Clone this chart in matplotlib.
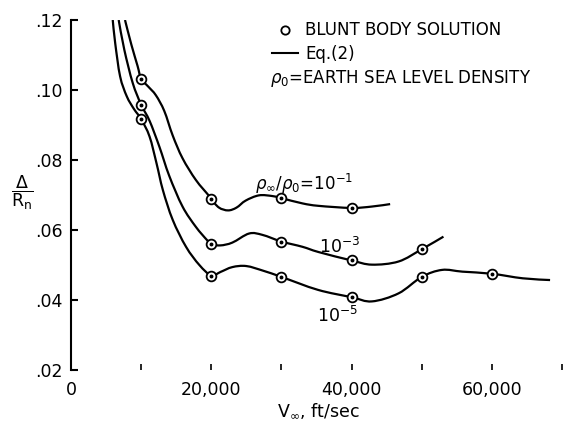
import numpy as np
import matplotlib
matplotlib.use("Agg")
import matplotlib.pyplot as plt
from matplotlib.path import Path
from matplotlib.patches import PathPatch

# curves: V (ft/sec) vs Delta/Rn
v1 = [7700, 8600, 9500, 10000, 11000, 12100, 13300, 14500, 15900, 17800, 19700, 20000,
      21100, 22400, 23600, 24900, 26800, 28700, 30000, 33000, 35300, 40000, 42900, 45500]
d1 = [0.1200, 0.1130, 0.1068, 0.1032, 0.1010, 0.0985, 0.0940, 0.0870, 0.0805, 0.0743, 0.0697, 0.0688,
      0.0664, 0.0656, 0.0664, 0.0684, 0.0699, 0.0697, 0.0691, 0.0676, 0.0669, 0.0663, 0.0667, 0.0674]

v3 = [6800, 7600, 8800, 10000, 11200, 12600, 14000, 15900, 17800, 19400, 20000, 21300,
      23000, 25400, 27300, 30000, 33000, 35300, 40000, 42900, 46700, 50000, 53100]
d3 = [0.1200, 0.1115, 0.1020, 0.0958, 0.0912, 0.0838, 0.0755, 0.0667, 0.0609, 0.0571, 0.0560, 0.0556,
      0.0564, 0.0590, 0.0586, 0.0567, 0.0552, 0.0537, 0.0513, 0.0501, 0.0510, 0.0545, 0.0581]

v5 = [5950, 6300, 7000, 7950, 9000, 10000, 11200, 12200, 13100, 14500, 16400, 18300,
      20000, 21300, 23000, 25000, 27500, 30000, 35200, 40000, 42900, 46700, 50000, 52900,
      55800, 60000, 64400, 68300]
d5 = [0.1200, 0.1134, 0.1039, 0.0982, 0.0945, 0.0917, 0.0867, 0.0790, 0.0714, 0.0629, 0.0552, 0.0500,
      0.0470, 0.0480, 0.0494, 0.0497, 0.0483, 0.0466, 0.0429, 0.0408, 0.0396, 0.0419, 0.0466, 0.0486,
      0.0481, 0.0475, 0.0462, 0.0457]

# blunt body solution points
m_v1 = [10000, 20000, 30000, 40000]
m_d1 = [0.1032, 0.0688, 0.0691, 0.0663]
m_v3 = [10000, 20000, 30000, 40000, 50000]
m_d3 = [0.0958, 0.0560, 0.0567, 0.0513, 0.0545]
m_v5 = [10000, 20000, 30000, 40000, 50000, 60000]
m_d5 = [0.0917, 0.0470, 0.0466, 0.0408, 0.0466, 0.0475]

xticks_major = [0, 20000, 40000, 60000]
xtick_labels = ['0', '20,000', '40,000', '60,000']
xticks_minor = [10000, 30000, 50000, 70000]
yticks = [0.02, 0.04, 0.06, 0.08, 0.10, 0.12]
ytick_labels = ['.02', '.04', '.06', '.08', '.10', '.12']

plt.rcParams['font.family'] = 'DejaVu Sans'
plt.rcParams['mathtext.fontset'] = 'dejavusans'


def smooth_path(ax, xs, ys):
    # draw the read points as a smooth bezier path (catmull-rom tangents, in pixel space)
    pts = ax.transData.transform(np.column_stack([xs, ys]))
    n = len(pts)
    verts = [pts[0]]
    codes = [Path.MOVETO]
    for i in range(n - 1):
        p0 = pts[max(i - 1, 0)]
        p1 = pts[i]
        p2 = pts[i + 1]
        p3 = pts[min(i + 2, n - 1)]
        c1 = p1 + (p2 - p0) / 6.0
        c2 = p2 - (p3 - p1) / 6.0
        verts += [c1, c2, p2]
        codes += [Path.CURVE4] * 3
    return Path(verts, codes)


fig = plt.figure(figsize=(5.74, 4.25), dpi=100)
ax = fig.add_axes([71/574, 1 - 370/425, (562 - 71)/574, 350/425])
ax.set_xlim(0, 70000)
ax.set_ylim(0.02, 0.12)

for v, d in [(v1, d1), (v3, d3), (v5, d5)]:
    p = smooth_path(ax, v, d)
    ax.add_patch(PathPatch(p, transform=None, facecolor='none', edgecolor='black', lw=1.6))

for mv, md in [(m_v1, m_d1), (m_v3, m_d3), (m_v5, m_d5)]:
    ax.plot(mv, md, 'o', ms=7, mfc='white', mec='black', mew=1.3, zorder=3)
    ax.plot(mv, md, 'o', ms=1.8, color='black', zorder=4)

for s in ['top', 'right', 'bottom']:
    ax.spines[s].set_visible(False)
ax.spines['left'].set_linewidth(1.5)

ax.set_xticks(xticks_major)
ax.set_xticklabels(xtick_labels, fontsize=12.5)
ax.set_xticks(xticks_minor, minor=True)
ax.set_yticks(yticks)
ax.set_yticklabels(ytick_labels, fontsize=12.5)
ax.tick_params(axis='x', which='both', direction='in', length=4.5, width=1.2, pad=8)
ax.tick_params(axis='y', direction='in', length=5, width=1.5, pad=6)

# legend block
ax.plot([30570], [0.1171], 'o', ms=6, mfc='white', mec='black', mew=1.3, clip_on=False)
ax.text(33430, 0.1171, 'BLUNT BODY SOLUTION', fontsize=12, va='center')
ax.plot([28700, 32300], [0.1106, 0.1106], color='black', lw=1.5)
ax.text(33430, 0.1104, 'Eq.(2)', fontsize=12, va='center')
ax.text(28430, 0.1034, r'$\rho_0$=EARTH SEA LEVEL DENSITY', fontsize=12, va='center')

# curve labels
ax.text(26300, 0.0715, r'$\rho_\infty/\rho_0$=10$^{-1}$', fontsize=12, va='baseline')
ax.text(35300, 0.0535, r'10$^{-3}$', fontsize=12.5, va='baseline')
ax.text(35100, 0.0337, r'10$^{-5}$', fontsize=12.5, va='baseline')

fig.text(318/574, 1 - 410/425, r'$\mathrm{V}_\infty$, ft/sec', fontsize=12.5, ha='center', va='center')
fig.text(22/574, 1 - 193/425, r'$\dfrac{\Delta}{\mathrm{R}_\mathrm{n}}$', fontsize=12.5, ha='center', va='center')

fig.savefig('out.png', dpi=100, facecolor='white')
